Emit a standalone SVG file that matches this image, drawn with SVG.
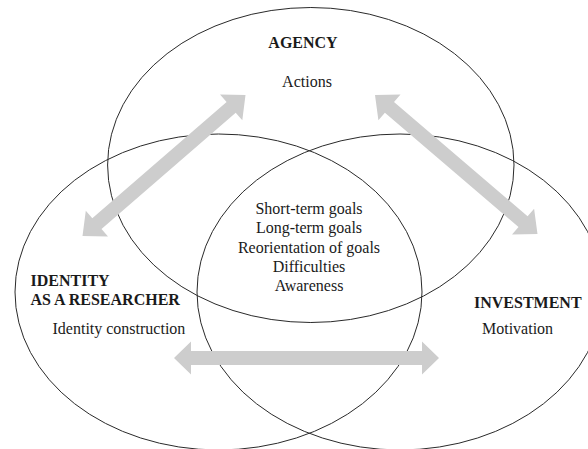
<svg xmlns="http://www.w3.org/2000/svg" width="588" height="449" viewBox="0 0 588 449">
<style>
.ring{fill:none;stroke:#2a2a2a;stroke-width:1}
.t{font-family:"Liberation Serif","Times New Roman",serif;font-size:16px;fill:#1a1a1a}
.b{font-weight:bold}
.arr{fill:#cdcdcd;stroke:none}
</style>
<rect width="588" height="449" fill="#ffffff"/>
<g id="agency">
<ellipse class="ring" cx="310.8" cy="165" rx="203.2" ry="157.5"/>
<text class="t b" x="303" y="48" text-anchor="middle">AGENCY</text>
<text class="t" x="307" y="87" text-anchor="middle">Actions</text>
</g>
<g id="identity">
<ellipse class="ring" cx="218.5" cy="292" rx="203.5" ry="158"/>
<text class="t b" x="30.5" y="286">IDENTITY</text>
<text class="t b" x="30.5" y="305">AS A RESEARCHER</text>
<text class="t" x="52.5" y="334">Identity construction</text>
</g>
<g id="investment">
<ellipse class="ring" cx="400" cy="292" rx="203" ry="158"/>
<text class="t b" x="474" y="308">INVESTMENT</text>
<text class="t" x="482" y="334">Motivation</text>
</g>
<g id="core">
<text class="t" text-anchor="middle" x="309" y="214">Short-term goals</text>
<text class="t" text-anchor="middle" x="309" y="233">Long-term goals</text>
<text class="t" text-anchor="middle" x="309" y="252.5">Reorientation of goals</text>
<text class="t" text-anchor="middle" x="309" y="271.5">Difficulties</text>
<text class="t" text-anchor="middle" x="309" y="291">Awareness</text>
</g>
<g id="connectors">
<polygon class="arr" points="82.5,236 108,236.4 101.5,228.9 235.7,112.7 242.3,120.3 245.5,95 220,94.6 226.6,102.1 92.3,218.3 85.8,210.7"/>
<polygon class="arr" points="375,95 378.4,120.3 384.9,112.7 518.5,227 512,234.6 537.5,234 534.1,208.7 527.6,216.3 394,102 400.5,94.4"/>
<polygon class="arr" points="174,358 191,341.5 191,351 422,351 422,341.5 439,358 422,374.5 422,365 191,365 191,374.5"/>
</g>
</svg>
